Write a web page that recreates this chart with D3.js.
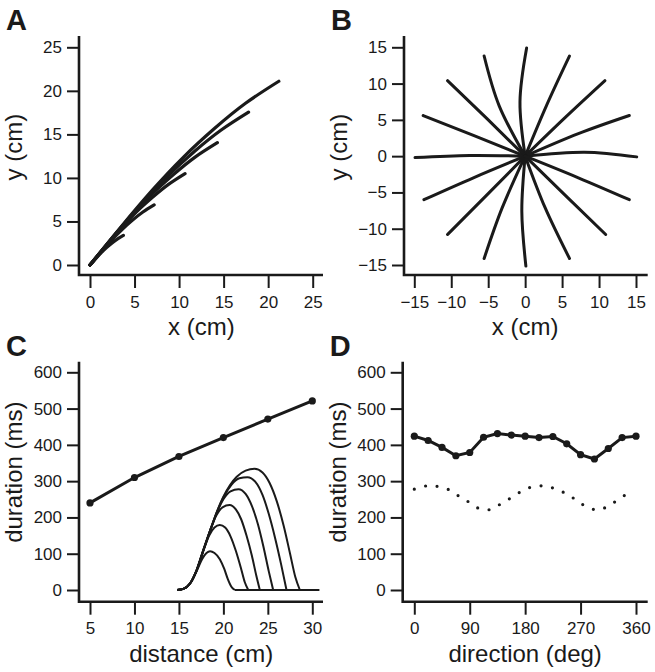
<!DOCTYPE html>
<html><head><meta charset="utf-8">
<script src="https://cdn.jsdelivr.net/npm/d3@7"></script>
<style>
body{margin:0;background:#fff;}
text{font-family:"Liberation Sans",Arial,Helvetica,sans-serif;fill:#1a1a1a;}
</style></head>
<body><svg id="c" width="655" height="672"></svg>
<script>
// ---------- DATA ----------
// Panel A: hand paths toward 45 deg for several distances (x, y in cm)
const pathA30 = [[0,0],[3.5,4.4],[7,8.6],[10.5,12.4],[14,15.7],[17.5,18.6],[21.2,21.1]];
const pathA25 = [[0,0],[2.94,3.66],[5.88,7.15],[8.82,10.31],[11.75,13.06],[14.69,15.47],[17.8,17.55]];
const pathA20 = [[0,0],[2.36,2.93],[4.72,5.73],[7.08,8.26],[9.44,10.45],[11.8,12.39],[14.3,14.05]];
const pathA15 = [[0,0],[1.76,2.19],[3.52,4.28],[5.28,6.17],[7.05,7.81],[8.81,9.26],[10.67,10.5]];
const pathA10 = [[0,0],[1.19,1.44],[2.38,2.81],[3.57,4.05],[4.75,5.13],[5.94,6.08],[7.2,6.9]];
const pathA5  = [[0,0],[0.62,0.71],[1.24,1.39],[1.86,2.0],[2.48,2.53],[3.1,3.0],[3.75,3.4]];
const pathsA = [pathA30, pathA25, pathA20, pathA15, pathA10, pathA5];
const ticksA = [0,5,10,15,20,25];

// Panel B: 16 directions, [origin, midpoint, endpoint] (cm)
const pathsB = [
  [[0,0],[8.0,0.55],[15.1,-0.1]],
  [[0,0],[7.2,3.1],[14.1,5.6]],
  [[0,0],[5.4,5.3],[10.8,10.4]],
  [[0,0],[2.9,7.0],[6.0,13.8]],
  [[0,0],[-0.7,7.5],[0.2,14.9]],
  [[0,0],[-3.5,6.9],[-5.55,13.8]],
  [[0,0],[-5.2,5.2],[-10.5,10.4]],
  [[0,0],[-7.0,2.85],[-13.8,5.6]],
  [[0,0],[-7.5,0.1],[-14.9,-0.2]],
  [[0,0],[-7.0,-2.98],[-13.7,-6.0]],
  [[0,0],[-5.2,-5.37],[-10.5,-10.8]],
  [[0,0],[-3.1,-7.1],[-5.55,-14.1]],
  [[0,0],[-0.45,-7.6],[0.1,-15.15]],
  [[0,0],[2.7,-7.1],[6.0,-14.1]],
  [[0,0],[5.4,-5.37],[10.9,-10.8]],
  [[0,0],[7.2,-2.98],[14.1,-6.0]]
];
const ticksB = [-15,-10,-5,0,5,10,15];

// Panel C: duration vs distance
const distances = [5,10,15,20,25,30];
const durationsC = [240,310,368,420,471,521];
// Panel C: speed-like profiles (x in cm, y in plot units)
const bellC1 = [[14.8,0],[15.5,3],[16.25,18],[17.0,52],[17.6,85],[18.1,102],[18.5,107],[19.0,102],[19.6,85],[20.1,58],[20.5,30],[20.9,9],[21.3,0]];
const bellC2 = [[14.8,0],[15.5,3],[16.25,18],[17.0,55],[17.75,108],[18.4,150],[19.0,172],[19.6,179],[20.2,172],[20.8,148],[21.4,108],[22.0,58],[22.4,22],[22.8,0]];
const bellC3 = [[14.8,0],[15.5,3],[16.25,18],[17.0,55],[17.75,110],[18.5,163],[19.2,205],[19.9,228],[20.7,234],[21.4,222],[22.0,195],[22.6,150],[23.2,95],[23.7,40],[24.1,0]];
const bellC4 = [[14.8,0],[15.5,3],[16.25,18],[17.0,55],[17.75,110],[18.5,163],[19.25,212],[20.0,250],[20.8,272],[21.7,278],[22.5,265],[23.2,232],[23.9,180],[24.5,120],[25.1,52],[25.6,0]];
const bellC5 = [[14.8,0],[15.5,3],[16.25,18],[17.0,55],[17.75,110],[18.5,163],[19.25,214],[20.0,255],[20.9,290],[21.8,308],[22.7,311],[23.6,298],[24.4,262],[25.1,210],[25.8,145],[26.5,70],[27.1,0]];
const bellC6 = [[14.8,0],[15.5,3],[16.25,18],[17.0,55],[17.75,110],[18.5,163],[19.25,214],[20.0,257],[20.75,289],[21.5,312],[22.5,329],[23.5,334],[24.4,324],[25.2,295],[26.0,245],[26.8,175],[27.5,100],[28.1,35],[28.6,0]];
const bellsC = [bellC1, bellC2, bellC3, bellC4, bellC5, bellC6];
const baselineC = [[21.3,0],[30.8,0]];
const ticksCx = [5,10,15,20,25,30];
const ticksCy = [0,100,200,300,400,500,600];

// Panel D: duration vs direction
const directions = [0,22.5,45,67.5,90,112.5,135,157.5,180,202.5,225,247.5,270,292.5,315,337.5,360];
const durationsD = [424,412,393,370,379,421,431,427,424,420,423,403,373,361,390,420,424];
const dottedDeg = [0,20,39,58,74,90,106,124,141,158,175,191,210,229,247,263,279,297,314,330,346];
const dottedVal = [278,287,285,275,257,241,224,222,238,255,273,284,287,279,265,248,230,221,230,248,266];
const ticksDx = [0,90,180,270,360];
const ticksDy = [0,100,200,300,400,500,600];

// ---------- DRAW ----------
const svg = d3.select("#c");
const ink = "#1a1a1a";

function panel(o){
  const g = svg.append("g");
  const x = d3.scaleLinear().domain(o.xd).range(o.xr);
  const y = d3.scaleLinear().domain(o.yd).range(o.yr);
  const ax = g.append("g").attr("transform",`translate(0,${o.axisY})`)
    .call(d3.axisBottom(x).tickValues(o.xt).tickSize(13).tickSizeOuter(0).tickPadding(4));
  const ay = g.append("g").attr("transform",`translate(${o.axisX},0)`)
    .call(d3.axisLeft(y).tickValues(o.yt).tickSize(12).tickSizeOuter(0).tickPadding(5));
  [ax,ay].forEach(a=>{
    a.select(".domain").remove();
    a.selectAll(".tick line").attr("stroke",ink).attr("stroke-width",2);
    a.selectAll(".tick text").attr("font-size",17).attr("fill",ink)
      .attr("font-family",'"Liberation Sans",Arial,Helvetica,sans-serif');
  });
  ax.selectAll(".tick text").attr("dy","0.93em");
  g.append("path").attr("d",`M${o.axisX},${o.axisTop}V${o.axisY}H${o.axisRight}`)
    .attr("fill","none").attr("stroke",ink).attr("stroke-width",2.6);
  g.append("text").attr("x",(o.xr[0]+o.xr[1])/2).attr("y",o.axisY+60)
    .attr("text-anchor","middle").attr("font-size",24).text(o.xl);
  g.append("text").attr("transform",`translate(${o.axisX-57},${(o.yr[0]+o.yr[1])/2-9}) rotate(-90)`)
    .attr("text-anchor","middle").attr("font-size",24).text(o.yl);
  g.append("text").attr("x",o.axisX-73).attr("y",o.axisTop-6)
    .attr("font-size",29).attr("font-weight","bold").text(o.letter);
  return {g,x,y};
}

// A
{
  const p = panel({xd:[0,25],xr:[90,312.7],yd:[0,25],yr:[265,47.3],axisX:79,axisY:275,axisTop:36,axisRight:323,
    xt:ticksA,yt:ticksA,xl:"x (cm)",yl:"y (cm)",letter:"A"});
  const line = d3.line().x(d=>p.x(d[0])).y(d=>p.y(d[1])).curve(d3.curveNatural);
  p.g.selectAll(".pa").data(pathsA).join("path").attr("d",line)
    .attr("fill","none").attr("stroke",ink).attr("stroke-width",3.2).attr("stroke-linecap","round");
}
// B
{
  const p = panel({xd:[-15,15],xr:[414.3,636],yd:[-15,15],yr:[265,47.3],axisX:404,axisY:275,axisTop:36,axisRight:647.7,
    xt:ticksB,yt:ticksB,xl:"x (cm)",yl:"y (cm)",letter:"B"});
  const line = d3.line().x(d=>p.x(d[0])).y(d=>p.y(d[1])).curve(d3.curveNatural);
  p.g.selectAll(".pb").data(pathsB).join("path").attr("d",line)
    .attr("fill","none").attr("stroke",ink).attr("stroke-width",3).attr("stroke-linecap","round");
}
// C
{
  const p = panel({xd:[5,30],xr:[90,312.3],yd:[0,600],yr:[590,372.3],axisX:79,axisY:601.7,axisTop:361.7,axisRight:323,
    xt:ticksCx,yt:ticksCy,xl:"distance (cm)",yl:"duration (ms)",letter:"C"});
  const bl = d3.line().x(d=>p.x(d[0])).y(d=>p.y(d[1])).curve(d3.curveMonotoneX);
  p.g.selectAll(".bc").data(bellsC).join("path").attr("d",bl)
    .attr("fill","none").attr("stroke",ink).attr("stroke-width",2);
  p.g.append("path").attr("d",bl(baselineC)).attr("fill","none").attr("stroke",ink).attr("stroke-width",2);
  const pts = distances.map((d,i)=>[d,durationsC[i]]);
  p.g.append("path").attr("d",d3.line().x(d=>p.x(d[0])).y(d=>p.y(d[1]))(pts))
    .attr("fill","none").attr("stroke",ink).attr("stroke-width",3);
  p.g.selectAll(".mc").data(pts).join("circle").attr("cx",d=>p.x(d[0])).attr("cy",d=>p.y(d[1]))
    .attr("r",3.6).attr("fill",ink);
}
// D
{
  const p = panel({xd:[0,360],xr:[414.3,636],yd:[0,600],yr:[590,372.3],axisX:402.7,axisY:601.7,axisTop:361.7,axisRight:647.7,
    xt:ticksDx,yt:ticksDy,xl:"direction (deg)",yl:"duration (ms)",letter:"D"});
  const dots = dottedDeg.map((d,i)=>[d,dottedVal[i]]);
  p.g.append("path").attr("d",d3.line().x(d=>p.x(d[0])).y(d=>p.y(d[1])).curve(d3.curveCatmullRom)(dots))
    .attr("fill","none").attr("stroke",ink).attr("stroke-width",3.2)
    .attr("stroke-linecap","round").attr("stroke-dasharray","0,11.6");
  const pts = directions.map((d,i)=>[d,durationsD[i]]);
  p.g.append("path").attr("d",d3.line().x(d=>p.x(d[0])).y(d=>p.y(d[1]))(pts))
    .attr("fill","none").attr("stroke",ink).attr("stroke-width",3);
  p.g.selectAll(".md").data(pts).join("circle").attr("cx",d=>p.x(d[0])).attr("cy",d=>p.y(d[1]))
    .attr("r",3.6).attr("fill",ink);
}
</script></body></html>
